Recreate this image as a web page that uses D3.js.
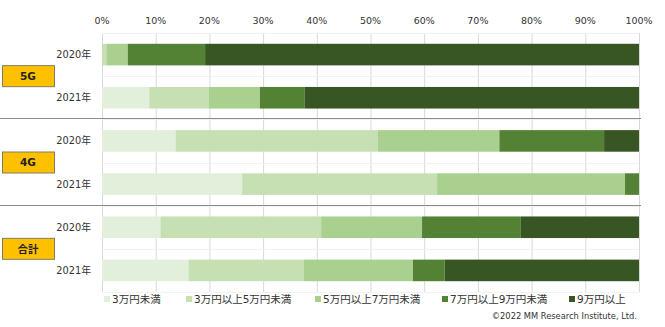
<!DOCTYPE html>
<meta charset="utf-8">
<head>
<style>
  body { margin:0; background:#fff; }
  svg text { font-family:"DejaVu Sans","Noto Sans CJK JP",sans-serif; fill:#333; }
</style>
</head>
<body>
<svg id="chart" width="665" height="327"></svg>
<script src="https://cdnjs.cloudflare.com/ajax/libs/d3/7.8.5/d3.min.js"></script>
<script>

// groups and rows
var groups = ["5G", "4G", "合計"]
var years = ["2020年", "2021年"]

// price brackets (legend order)
var brackets = ["3万円未満", "3万円以上5万円未満", "5万円以上7万円未満", "7万円以上9万円未満", "9万円以上"]
var colors = ["#e2efda", "#c6e0b4", "#a9d08e", "#548235", "#375623"]

// shares in %, one array per group/year, in bracket order
var g5_2020 = [0, 0.8, 4.0, 14.4, 80.8]
var g5_2021 = [8.8, 11.1, 9.5, 8.3, 62.3]
var g4_2020 = [13.7, 37.7, 22.6, 19.5, 6.5]
var g4_2021 = [26.1, 36.3, 35.0, 2.6, 0]
var all_2020 = [10.9, 29.9, 18.8, 18.4, 22.0]
var all_2021 = [16.1, 21.5, 20.3, 5.9, 36.2]

var ticks = [0, 10, 20, 30, 40, 50, 60, 70, 80, 90, 100]

var rows = [
  {group:"5G", year:years[0], vals:g5_2020},
  {group:"5G", year:years[1], vals:g5_2021},
  {group:"4G", year:years[0], vals:g4_2020},
  {group:"4G", year:years[1], vals:g4_2021},
  {group:"合計", year:years[0], vals:all_2020},
  {group:"合計", year:years[1], vals:all_2021}
]
rows.forEach(function(r, i){ r.key = i })

var svg = d3.select("#chart")

var x = d3.scaleLinear().domain([0, 100]).range([102, 639])
var y = d3.scaleBand()
    .domain(rows.map(function(r){ return r.key }))
    .range([33, 292])
    .paddingInner(0.5)
    .paddingOuter(0.25)

// vertical gridlines
svg.append("g")
  .selectAll("line")
  .data(ticks)
  .enter()
  .append("line")
    .attr("x1", function(d){ return x(d) + 0.5 })
    .attr("x2", function(d){ return x(d) + 0.5 })
    .attr("y1", 33)
    .attr("y2", 292)
    .attr("stroke", "#d9d9d9")

// faint horizontal lines between rows
svg.append("g")
  .selectAll("line")
  .data(d3.range(0, rows.length + 1))
  .enter()
  .append("line")
    .attr("x1", x(0))
    .attr("x2", x(100))
    .attr("y1", function(d){ return Math.round(33 + d * y.step()) + 0.5 })
    .attr("y2", function(d){ return Math.round(33 + d * y.step()) + 0.5 })
    .attr("stroke", "#f2f2f2")

// tick labels on top
svg.append("g")
  .selectAll("text")
  .data(ticks)
  .enter()
  .append("text")
    .attr("x", function(d){ return x(d) })
    .attr("y", 24)
    .attr("text-anchor", "middle")
    .style("font-size", "9.5px")
    .text(function(d){ return d + "%" })

// stacked bars
var stackData = rows.map(function(r){
  var acc = 0
  return r.vals.map(function(v, j){
    var s = {row:r.key, x0:acc, x1:acc + v, c:j}
    acc += v
    return s
  })
})

svg.append("g")
  .selectAll("g")
  .data(stackData)
  .enter()
  .append("g")
  .selectAll("rect")
  .data(function(d){ return d.filter(function(s){ return s.x1 > s.x0 }) })
  .enter()
  .append("rect")
    .attr("x", function(d){ return x(d.x0) })
    .attr("width", function(d){ return x(d.x1) - x(d.x0) })
    .attr("y", function(d){ return y(d.row) })
    .attr("height", y.bandwidth())
    .attr("fill", function(d){ return colors[d.c] })

// year labels
svg.append("g")
  .selectAll("text")
  .data(rows)
  .enter()
  .append("text")
    .attr("x", 91)
    .attr("y", function(d){ return y(d.key) + y.bandwidth() / 2 })
    .attr("dy", "0.35em")
    .attr("text-anchor", "end")
    .style("font-size", "9.8px")
    .text(function(d){ return d.year })

// separators between groups
svg.append("g")
  .selectAll("line")
  .data([2, 4])
  .enter()
  .append("line")
    .attr("x1", 0)
    .attr("x2", 641)
    .attr("y1", function(d){ return Math.round(33 + d * y.step()) - 0.5 })
    .attr("y2", function(d){ return Math.round(33 + d * y.step()) - 0.5 })
    .attr("stroke", "#8c8c8c")

// group labels
var gl = svg.append("g")
  .selectAll("g")
  .data(groups)
  .enter()
  .append("g")
  .attr("transform", function(d, i){
    var cy = 33 + (2 * i + 1) * y.step()
    return "translate(28," + cy + ")"
  })

gl.append("rect")
    .attr("x", -25.5)
    .attr("y", -10.5)
    .attr("width", 52)
    .attr("height", 21)
    .attr("fill", "#ffc000")
    .attr("stroke", "#7f7f5f")

gl.append("text")
    .attr("text-anchor", "middle")
    .attr("dy", "0.35em")
    .style("font-size", "10.5px")
    .style("font-weight", "bold")
    .style("fill", "#222")
    .text(function(d){ return d })

// legend
var legendX = [104, 186, 315, 442, 569]
var leg = svg.append("g")
  .selectAll("g")
  .data(brackets)
  .enter()
  .append("g")
  .attr("transform", function(d, i){ return "translate(" + legendX[i] + ",299)" })

leg.append("rect")
    .attr("x", 0)
    .attr("y", -3)
    .attr("width", 6)
    .attr("height", 6)
    .attr("fill", function(d, i){ return colors[i] })

leg.append("text")
    .attr("x", 8)
    .attr("dy", "0.35em")
    .style("font-size", "10.5px")
    .text(function(d){ return d })

// source
svg.append("text")
    .attr("x", 637)
    .attr("y", 316)
    .attr("dy", "0.35em")
    .attr("text-anchor", "end")
    .style("font-size", "8.3px")
    .text("©2022 MM Research Institute, Ltd.")

</script>
</body>
